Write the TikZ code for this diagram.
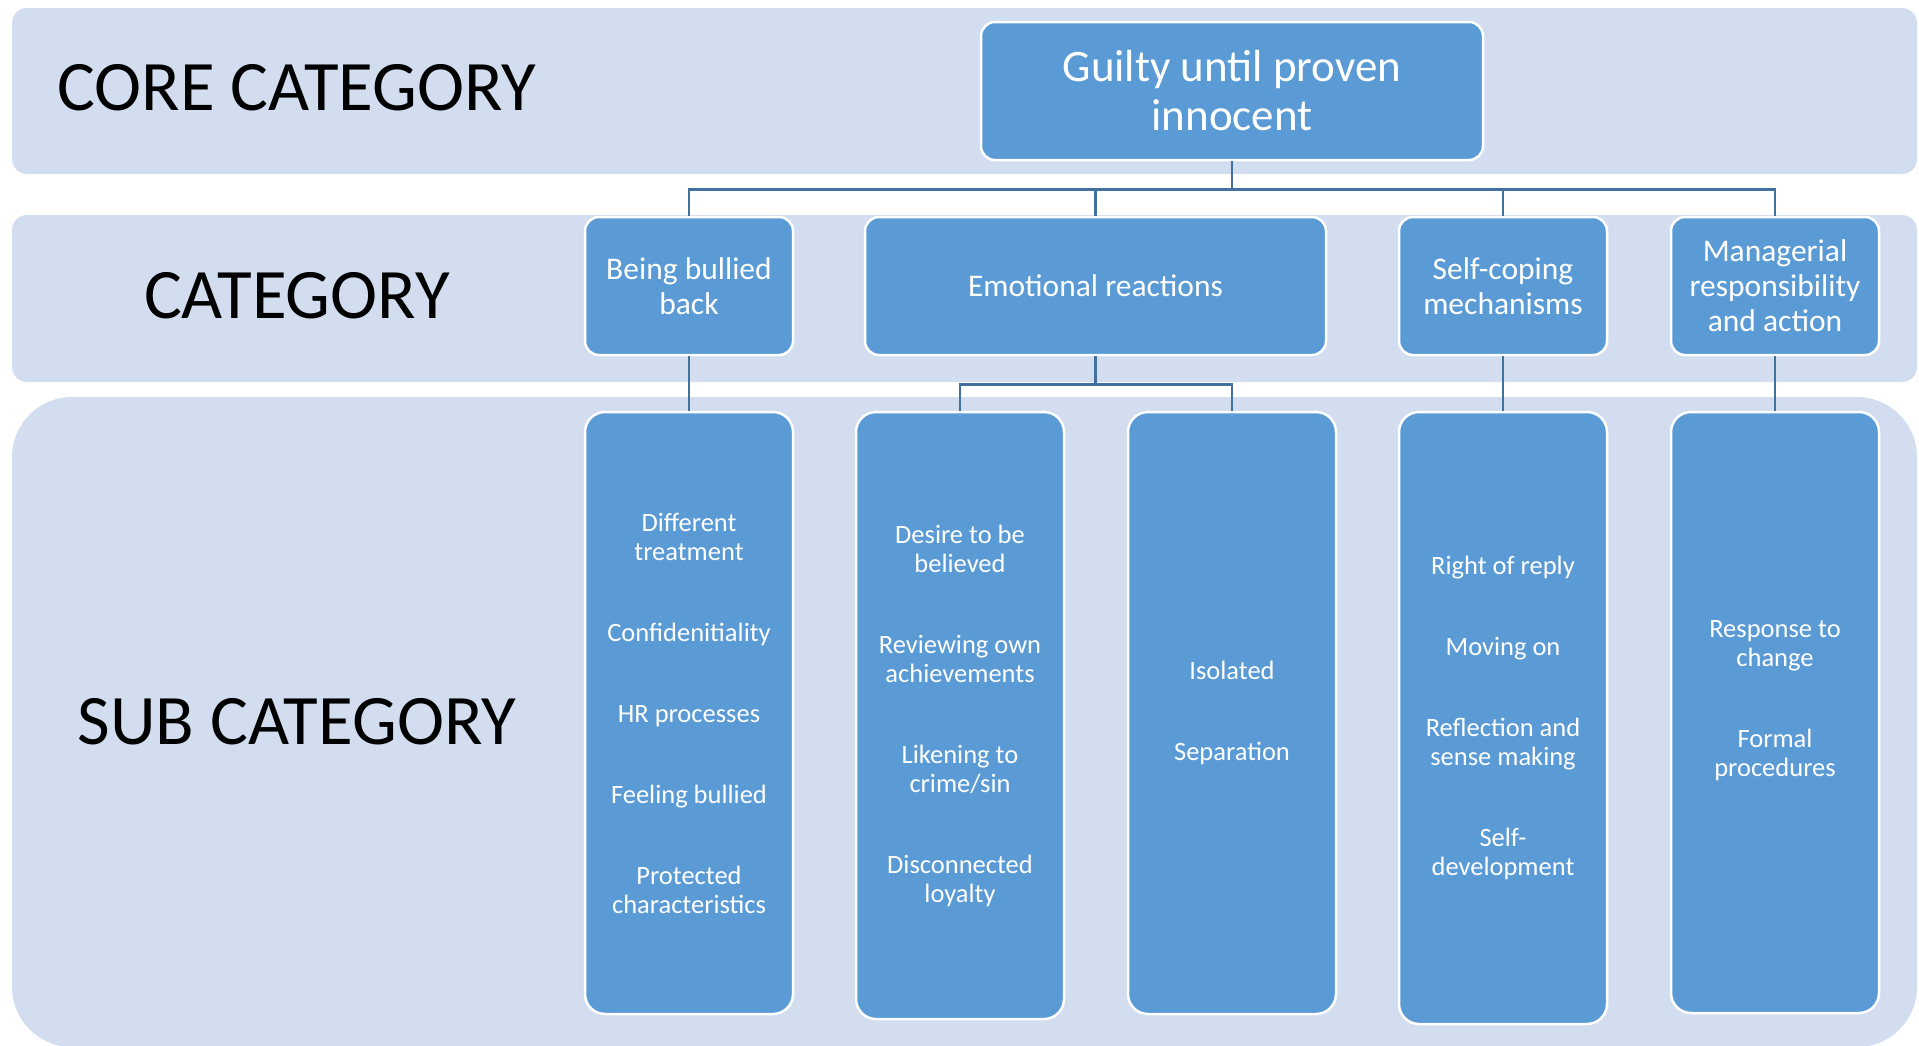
\documentclass[tikz,border=0pt]{standalone}
\usepackage{fontspec}
\setmainfont{Carlito}
\usepackage{xcolor}
\definecolor{bandblue}{HTML}{D2DEEF}
\definecolor{boxblue}{HTML}{5B9BD5}
\definecolor{linkblue}{HTML}{41719C}
\usepackage{tikz}
\usetikzlibrary{positioning}
\newcommand{\subgap}{\\[52pt]}

\begin{document}
\begin{tikzpicture}[
        x=1pt, y=-1pt,
        band/.style={fill=bandblue},
        levelname/.style={text=black, font=\fontsize{71}{85}\selectfont},
        bluebox/.style={rectangle, draw=white, line width=2.5pt, fill=boxblue, text=white, align=center},
        corebox/.style={bluebox, rounded corners=14pt, minimum width=502pt, minimum height=138pt, font=\fontsize{45}{49}\selectfont},
        catbox/.style={bluebox, rounded corners=14pt, minimum width=208pt, minimum height=138pt, font=\fontsize{31.5}{35}\selectfont},
        subbox/.style={bluebox, rounded corners=20pt, minimum width=208pt, font=\fontsize{26.5}{29}\selectfont},
        link/.style={draw=linkblue, line width=2.5pt}
    ]
        \useasboundingbox (0,0) rectangle (1919,1045);

        \fill[band, rounded corners=15pt] (12,8) rectangle (1917,174);
        \fill[band, rounded corners=15pt] (12,215) rectangle (1917,382);
        \fill[band, rounded corners=60pt] (12,397) rectangle (1917,1047);

        \node[levelname] (corename) at (297,88) {CORE CATEGORY};
        \node[levelname] (catname) at (297,296) {CATEGORY};
        \node[levelname] (subname) at (297,722) {SUB CATEGORY};

        \node[corebox] (core) at (1232,91) {Guilty until proven\\innocent};

        \node[catbox] (bullied) at (689,286) {Being bullied\\back};
        \node[catbox, minimum width=461pt] (emotion) at (1095.5,286) {Emotional reactions};
        \node[catbox] (coping) at (1503,286) {Self-coping\\mechanisms};
        \node[catbox] (manager) at (1775,286) {Managerial\\responsibility\\and action};

        \node[subbox, minimum height=602pt] (bulliedsub) at (689,713)
            {Different\\treatment\subgap Confidenitiality\subgap HR processes\subgap Feeling bullied\subgap Protected\\characteristics};
        \node[subbox, minimum height=607pt] (emosubA) at (960,715.5)
            {Desire to be\\believed\subgap Reviewing own\\achievements\subgap Likening to\\crime/sin\subgap Disconnected\\loyalty};
        \node[subbox, minimum height=602pt] (emosubB) at (1232,713)
            {Isolated\subgap Separation};
        \node[subbox, minimum height=612pt] (copingsub) at (1503,718)
            {Right of reply\subgap Moving on\subgap Reflection and\\sense making\subgap Self-\\development};
        \node[subbox, minimum height=601pt] (managersub) at (1775,712.5)
            {Response to\\change\subgap Formal\\procedures\\\mbox{}};

        \foreach \cat in {bullied,emotion,coping,manager}
            \draw[link] (core.south) -- ++(0,28) -| (\cat.north);
        \draw[link] (emotion.south) -- ++(0,28) -| (emosubA.north);
        \draw[link] (emotion.south) -- ++(0,28) -| (emosubB.north);
        \draw[link] (bullied) -- (bulliedsub);
        \draw[link] (coping) -- (copingsub);
        \draw[link] (manager) -- (managersub);
    \end{tikzpicture}
\end{document}
